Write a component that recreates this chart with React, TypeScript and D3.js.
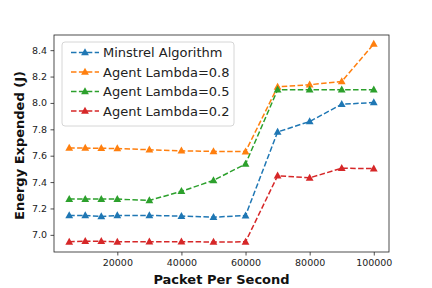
import React, { useEffect, useRef } from 'react';
import * as d3 from 'd3';

// Data
const packets = [5000, 10000, 15000, 20000, 30000, 40000, 50000, 60000, 70000, 80000, 90000, 100000];
const minstrel = [7.147, 7.147, 7.139, 7.147, 7.147, 7.142, 7.134, 7.146, 7.78, 7.859, 7.99, 8.003];
const lambda08 = [7.658, 7.658, 7.656, 7.655, 7.645, 7.637, 7.633, 7.631, 8.122, 8.138, 8.162, 8.447];
const lambda05 = [7.271, 7.271, 7.271, 7.271, 7.261, 7.33, 7.413, 7.537, 8.1, 8.1, 8.1, 8.1];
const lambda02 = [6.947, 6.952, 6.952, 6.947, 6.948, 6.948, 6.946, 6.947, 7.448, 7.432, 7.505, 7.502];

const seriesNames = ['Minstrel Algorithm', 'Agent Lambda=0.8', 'Agent Lambda=0.5', 'Agent Lambda=0.2'];
const seriesColors = ['#1f77b4', '#ff7f0e', '#2ca02c', '#d62728'];
const xTicks = [20000, 40000, 60000, 80000, 100000];
const yTicks = [7.0, 7.2, 7.4, 7.6, 7.8, 8.0, 8.2, 8.4];

const App = () => {
  const ref = useRef<HTMLDivElement>(null);

  useEffect(() => {
    document.body.style.margin = '0';
    const width = 432;
    const height = 288;
    const margin = { top: 35, right: 43, bottom: 36, left: 54 };
    const font = 'DejaVu Sans, sans-serif';

    const series = [minstrel, lambda08, lambda05, lambda02];

    const x = d3.scaleLinear().domain([250, 104750]).range([margin.left, width - margin.right]);
    const y = d3.scaleLinear().domain([6.87, 8.515]).range([height - margin.bottom, margin.top]);

    const svg = d3.create('svg').attr('width', width).attr('height', height).style('display', 'block');
    svg.append('rect').attr('width', width).attr('height', height).attr('fill', 'white');

    // axes
    const xAxis = svg
      .append('g')
      .attr('transform', `translate(0,${height - margin.bottom})`)
      .call(d3.axisBottom(x).tickValues(xTicks).tickFormat(d3.format('d')).tickSize(3.5).tickPadding(3.5));
    const yAxis = svg
      .append('g')
      .attr('transform', `translate(${margin.left},0)`)
      .call(d3.axisLeft(y).tickValues(yTicks).tickFormat(d3.format('.1f')).tickSize(3.5).tickPadding(3.5));

    [xAxis, yAxis].forEach((a) => {
      a.select('.domain').remove();
      a.selectAll('text').attr('font-family', font).attr('font-size', 9.5).attr('fill', '#222');
      a.selectAll('line').attr('stroke', '#222').attr('stroke-width', 0.8);
    });

    // frame
    svg
      .append('rect')
      .attr('x', margin.left)
      .attr('y', margin.top)
      .attr('width', width - margin.left - margin.right)
      .attr('height', height - margin.top - margin.bottom)
      .attr('fill', 'none')
      .attr('stroke', '#222')
      .attr('stroke-width', 0.8);

    const line = d3
      .line<number>()
      .x((d, i) => x(packets[i]))
      .y((d) => y(d));

    const tri = 'M0,-4.2L3.9,2.8L-3.9,2.8Z';

    series.forEach((vals, s) => {
      svg
        .append('path')
        .attr('d', line(vals))
        .attr('fill', 'none')
        .attr('stroke', seriesColors[s])
        .attr('stroke-width', 1.5)
        .attr('stroke-dasharray', '5.5,2.4');
      svg
        .append('g')
        .selectAll('path')
        .data(vals)
        .enter()
        .append('path')
        .attr('transform', (d, i) => `translate(${x(packets[i])},${y(d)})`)
        .attr('d', tri)
        .attr('fill', seriesColors[s]);
    });

    // legend
    const lg = svg.append('g').attr('transform', `translate(62,42)`);
    lg.append('rect')
      .attr('width', 172)
      .attr('height', 84)
      .attr('rx', 3)
      .attr('fill', 'white')
      .attr('fill-opacity', 0.8)
      .attr('stroke', '#ccc')
      .attr('stroke-width', 0.8);
    seriesNames.forEach((name, i) => {
      const cy = 10.5 + i * 19.5;
      lg.append('line')
        .attr('x1', 9)
        .attr('x2', 37)
        .attr('y1', cy)
        .attr('y2', cy)
        .attr('stroke', seriesColors[i])
        .attr('stroke-width', 1.5)
        .attr('stroke-dasharray', '5.5,2.4');
      lg.append('path').attr('transform', `translate(23,${cy})`).attr('d', tri).attr('fill', seriesColors[i]);
      lg.append('text')
        .attr('x', 41)
        .attr('y', cy)
        .attr('dy', '0.35em')
        .attr('font-family', font)
        .attr('font-size', 13)
        .attr('fill', '#222')
        .text(name);
    });

    // axis labels
    svg
      .append('text')
      .attr('x', (margin.left + width - margin.right) / 2)
      .attr('y', 279)
      .attr('dy', '0.35em')
      .attr('text-anchor', 'middle')
      .attr('font-family', font)
      .attr('font-weight', 'bold')
      .attr('font-size', 13)
      .attr('fill', '#111')
      .text('Packet Per Second');
    svg
      .append('text')
      .attr('transform', `translate(19,${(margin.top + height - margin.bottom) / 2 + 2}) rotate(-90)`)
      .attr('dy', '0.35em')
      .attr('text-anchor', 'middle')
      .attr('font-family', font)
      .attr('font-weight', 'bold')
      .attr('font-size', 13)
      .attr('fill', '#111')
      .text('Energy Expended (J)');

    const node = svg.node();
    if (ref.current && node) {
      ref.current.innerHTML = '';
      ref.current.appendChild(node);
    }
  }, []);

  return <div ref={ref}></div>;
};

export default App;
